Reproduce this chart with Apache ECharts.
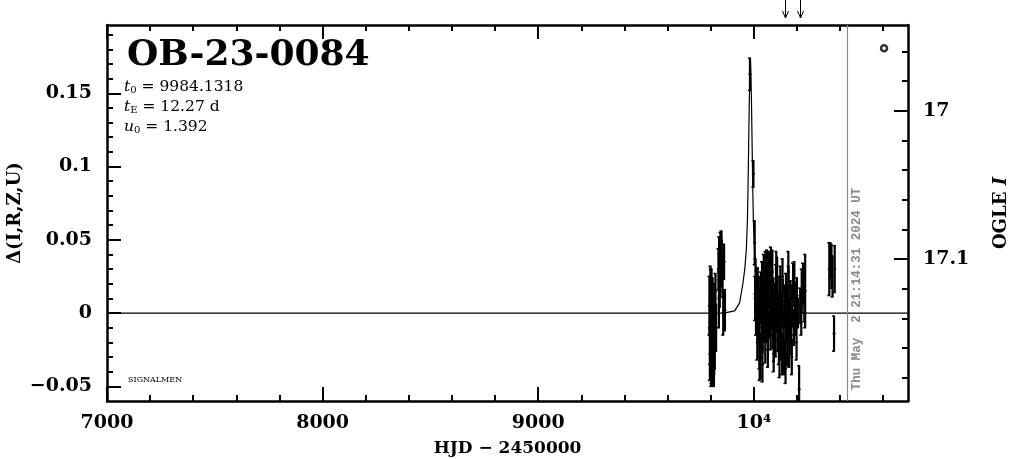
<!DOCTYPE html>
<html><head><meta charset="utf-8">
<script src="https://cdn.jsdelivr.net/npm/echarts@6/dist/echarts.min.js"></script>
<style>html,body{margin:0;padding:0;background:#fff}#c{width:1011px;height:459px}</style>
</head><body><div id="c"></div><script>
// ---- axis ranges & ticks ----
const X_MIN = 7000, X_MAX = 10715;
const Y_MIN = -0.06, Y_MAX = 0.1966;
const MAG_MIN = 16.9422, MAG_MAX = 17.1958;
const xMajorTicks = [7000, 8000, 9000, 10000];
const xMinorTicks = [7200, 7400, 7600, 7800, 8200, 8400, 8600, 8800, 9200, 9400, 9600, 9800, 10200, 10400, 10600];
const yMajorTicks = [-0.05, 0, 0.05, 0.1, 0.15];
const yMinorTicks = [-0.04, -0.03, -0.02, -0.01, 0.01, 0.02, 0.03, 0.04, 0.06, 0.07, 0.08, 0.09, 0.11, 0.12, 0.13, 0.14, 0.16, 0.17, 0.18, 0.19];
const magMajorTicks = [17, 17.1];
const magMinorTicks = [16.96, 16.98, 17.02, 17.04, 17.06, 17.08, 17.12, 17.14, 17.16, 17.18];

// ---- photometry (HJD-2450000, delta mag, error) ----
const hjd = [9794, 9797, 9800, 9803, 9805, 9807, 9809, 9811, 9813, 9815, 9817, 9819, 9822, 9825, 9836, 9839, 9842, 9845, 9848, 9851, 9855, 9858, 9862, 9866,
  9982, 9998, 10004,
  10006, 10008, 10010, 10012, 10015, 10018, 10020, 10023, 10026, 10028, 10031, 10033, 10036, 10038, 10041, 10043, 10046, 10048, 10051, 10053, 10056, 10058,
  10061, 10063, 10066, 10068, 10071, 10073, 10076, 10078, 10081, 10083, 10086, 10088, 10091, 10093, 10096, 10098, 10101, 10103, 10106, 10108, 10111, 10113,
  10116, 10118, 10121, 10123, 10126, 10128, 10131, 10134, 10137, 10140, 10143, 10146, 10149, 10152, 10155, 10158, 10161, 10164, 10167, 10170, 10174, 10178,
  10182, 10186, 10190, 10195, 10200, 10205, 10210, 10215, 10222, 10228, 10234, 10238,
  10350, 10355, 10360, 10365, 10372, 10375,
  9796, 9799, 9802, 9804, 9808, 9812, 9816, 9838, 9844, 9850,
  10016, 10027, 10040, 10054, 10065, 10079, 10092, 10104, 10119, 10133, 10147, 10160, 10176, 10188, 10198, 10220];
const dmag = [0.005, -0.015, 0.012, -0.030, -0.005, -0.025, 0.008, -0.035, -0.012, -0.038, 0.000, -0.020, 0.015, -0.010, 0.030, 0.040, 0.020, 0.045, 0.032, 0.038, 0.025, 0.000, 0.035, 0.002,
  0.163, 0.095, 0.048,
  0.010, 0.025, -0.005, 0.015, 0.000, 0.018, -0.008, 0.010, -0.020, 0.005, -0.030, 0.012, -0.010, 0.020, -0.015, 0.000, 0.028, -0.005, 0.010, -0.018, 0.015, -0.008,
  0.025, 0.003, -0.012, 0.018, 0.030, -0.005, 0.008, -0.015, 0.020, 0.000, 0.028, -0.010, 0.012, -0.020, 0.005, -0.008, -0.018, 0.015, -0.003, 0.022, -0.012, 0.000,
  -0.022, 0.010, -0.005, 0.018, -0.015, 0.002, -0.028, 0.008, -0.010, -0.030, 0.005, -0.018, 0.012, -0.008, -0.022, 0.000, 0.018, -0.025, -0.005, 0.010, -0.015, 0.005,
  0.022, -0.010, 0.008, -0.005, 0.012, 0.000, -0.052, 0.005, 0.015, 0.020, 0.012, 0.015,
  0.030, 0.036, 0.032, 0.025, -0.014, 0.030,
  -0.028, 0.020, -0.040, 0.010, -0.018, -0.030, -0.022, 0.010, 0.030, 0.048,
  -0.020, -0.030, -0.035, 0.030, -0.025, 0.035, -0.028, 0.030, -0.032, 0.025, -0.038, 0.028, -0.030, 0.020, -0.020, 0.000];
const derr = [0.020, 0.020, 0.018, 0.018, 0.022, 0.020, 0.016, 0.014, 0.020, 0.012, 0.020, 0.018, 0.012, 0.016, 0.014, 0.012, 0.016, 0.010, 0.014, 0.012, 0.014, 0.015, 0.012, 0.014,
  0.011, 0.009, 0.015,
  0.015, 0.012, 0.010, 0.014, 0.012, 0.013, 0.010, 0.015, 0.018, 0.012, 0.015, 0.016, 0.014, 0.015, 0.012, 0.018, 0.012, 0.015, 0.013, 0.016, 0.014, 0.012,
  0.018, 0.010, 0.013, 0.014, 0.012, 0.012, 0.015, 0.010, 0.016, 0.012, 0.015, 0.014, 0.012, 0.013, 0.015, 0.012, 0.012, 0.018, 0.010, 0.016, 0.014, 0.012,
  0.013, 0.015, 0.010, 0.014, 0.016, 0.012, 0.014, 0.015, 0.012, 0.012, 0.014, 0.016, 0.015, 0.012, 0.014, 0.016, 0.014, 0.012, 0.015, 0.012, 0.013, 0.014,
  0.012, 0.012, 0.013, 0.010, 0.012, 0.010, 0.016, 0.012, 0.015, 0.014, 0.018, 0.025,
  0.018, 0.012, 0.015, 0.014, 0.012, 0.016,
  0.018, 0.012, 0.010, 0.020, 0.025, 0.020, 0.020, 0.020, 0.018, 0.008,
  0.012, 0.016, 0.012, 0.012, 0.012, 0.010, 0.012, 0.012, 0.012, 0.012, 0.010, 0.014, 0.012, 0.015, 0.012, 0.015];

// ---- model curve ----
const modelT = [7000, 9861, 9911, 9934, 9949, 9958, 9965, 9970, 9973, 9976, 9979, 9982, 9984, 9986, 9989, 9992, 9995, 9998, 10003, 10010, 10019, 10034, 10057, 10107, 10715];
const modelD = [0, 0, 0.0015, 0.007, 0.02, 0.03, 0.043, 0.062, 0.085, 0.115, 0.145, 0.166, 0.174, 0.166, 0.145, 0.115, 0.085, 0.062, 0.043, 0.03, 0.02, 0.007, 0.0015, 0, 0];

const arrowT = [10144, 10213];
const nowHJD = 10433.4;
const markT = [10604], markD = [0.1807];

const fontSerif = '"DejaVu Serif", "Liberation Serif", serif';
const fontMono = '"Liberation Mono", "DejaVu Sans Mono", monospace';
const INK = '#000';
const GRAY = '#8a8a8a';

function fmtMinus(v) { return String(v).replace('-', '\u2212'); }

function xAxisDef(pos, ticks, len, showLine, showLabel, name) {
  return {
    type: 'value', position: pos, min: X_MIN, max: X_MAX, offset: 0,
    name: name || '', nameLocation: 'middle', nameGap: 39,
    nameTextStyle: { fontFamily: fontSerif, fontSize: 17, fontWeight: 'bold', color: INK },
    axisLine: { show: showLine, onZero: false, lineStyle: { color: INK, width: 2.5 } },
    axisTick: { show: true, inside: true, length: len, customValues: ticks, lineStyle: { color: INK, width: 2 } },
    axisLabel: showLabel ? {
      show: true, customValues: ticks, margin: 13, color: INK, fontFamily: fontSerif, fontSize: 19, fontWeight: 'bold',
      formatter: v => (v === 10000 ? '10\u2074' : String(v))
    } : { show: false },
    splitLine: { show: false }
  };
}
function yAxisDef(pos, min, max, inverse, ticks, len, showLine, labelTicks, fmt) {
  return {
    type: 'value', position: pos, min: min, max: max, inverse: inverse, offset: 0,
    axisLine: { show: showLine, onZero: false, lineStyle: { color: INK, width: 2.5 } },
    axisTick: { show: true, inside: true, length: len, customValues: ticks, lineStyle: { color: INK, width: 2 } },
    axisLabel: labelTicks ? {
      show: true, customValues: labelTicks, margin: 15, color: INK, fontFamily: fontSerif, fontSize: 19, fontWeight: 'bold',
      formatter: fmt
    } : { show: false },
    splitLine: { show: false }
  };
}

const errData = hjd.map((t, i) => [t, dmag[i], derr[i]]);
const modelData = modelT.map((t, i) => [t, modelD[i]]);
const arrowData = arrowT.map(t => [t, Y_MAX]);
const markData = markT.map((t, i) => [t, markD[i]]);

const chart = echarts.init(document.getElementById('c'), null, { renderer: 'canvas' });
const yLeft = yAxisDef('left', Y_MIN, Y_MAX, false, yMajorTicks, 14, true, yMajorTicks, v => fmtMinus(v));
yLeft.name = '\u0394(I,R,Z,U)';
yLeft.nameLocation = 'middle';
yLeft.nameRotate = 90;
yLeft.nameGap = 83;
yLeft.nameMoveOverlap = false;
yLeft.nameTextStyle = { fontFamily: fontSerif, fontSize: 18, fontWeight: 'bold', color: INK };
const yRight = yAxisDef('right', MAG_MIN, MAG_MAX, true, magMajorTicks, 14, true, magMajorTicks, v => String(v));
yRight.name = '{n|OGLE }{i|I}';
yRight.nameLocation = 'middle';
yRight.nameRotate = 90;
yRight.nameGap = 84;
yRight.nameMoveOverlap = false;
yRight.nameTextStyle = { fontFamily: fontSerif, fontSize: 18, fontWeight: 'bold', color: INK,
  rich: { n: { fontFamily: fontSerif, fontSize: 18, fontWeight: 'bold', color: INK },
          i: { fontFamily: fontSerif, fontSize: 18, fontWeight: 'bold', fontStyle: 'italic', color: INK } } };

const subRich = { t: { fontFamily: fontSerif, fontSize: 15.5, fontStyle: 'italic' }, s: { fontFamily: fontSerif, fontSize: 10, padding: [7, 0, 0, 0] } };

const option = {
  backgroundColor: '#fff',
  animation: false,
  grid: { left: 107, right: 103, top: 25, bottom: 58, containLabel: false, outerBoundsMode: 'none' },
  xAxis: [
    xAxisDef('bottom', xMajorTicks, 14, true, true, 'HJD \u2212 2450000'),
    xAxisDef('bottom', xMinorTicks, 6, false, false),
    xAxisDef('top', xMajorTicks, 14, true, false),
    xAxisDef('top', xMinorTicks, 6, false, false)
  ],
  yAxis: [
    yLeft,
    yAxisDef('left', Y_MIN, Y_MAX, false, yMinorTicks, 6, false, null),
    yRight,
    yAxisDef('right', MAG_MIN, MAG_MAX, true, magMinorTicks, 6, false, null)
  ],
  graphic: [
    { type: 'text', left: 127, top: 38, style: { text: 'OB-23-0084', fontFamily: fontSerif, fontSize: 36, fontWeight: 'bold', fill: INK } },
    { type: 'text', left: 124, top: 79, style: { text: '{t|t}{s|0} = 9984.1318', fill: INK, rich: subRich, fontFamily: fontSerif, fontSize: 15.5 } },
    { type: 'text', left: 124, top: 99, style: { text: '{t|t}{s|E} = 12.27 d', fill: INK, rich: subRich, fontFamily: fontSerif, fontSize: 15.5 } },
    { type: 'text', left: 124, top: 119, style: { text: '{t|u}{s|0} = 1.392', fill: INK, rich: subRich, fontFamily: fontSerif, fontSize: 15.5 } },
    { type: 'text', left: 128, top: 376, style: { text: 'SIGNALMEN', fontFamily: fontSerif, fontSize: 8, fill: INK } },
    { type: 'text', x: 857, y: 289, rotation: Math.PI / 2,
      style: { text: 'Thu May  2 21:14:31 2024 UT', fontFamily: fontMono, fontSize: 12.5, fontWeight: 'bold', fill: GRAY, align: 'center', verticalAlign: 'middle' } }
  ],
  series: [
    {
      type: 'line', name: 'model', xAxisIndex: 0, yAxisIndex: 0, data: modelData,
      showSymbol: false, symbol: 'none', lineStyle: { color: INK, width: 1.2 }, z: 3, clip: true,
      markLine: {
        silent: true, symbol: ['none', 'none'], label: { show: false },
        lineStyle: { color: GRAY, width: 1.2, type: 'solid' },
        data: [{ xAxis: nowHJD }]
      }
    },
    {
      type: 'custom', name: 'phot', xAxisIndex: 0, yAxisIndex: 0, data: errData, clip: true, z: 4,
      renderItem: function (params, api) {
        const t = api.value(0), d = api.value(1), e = api.value(2);
        const top = api.coord([t, d + e]), bot = api.coord([t, d - e]), mid = api.coord([t, d]);
        const st = { stroke: INK, lineWidth: 2.2 };
        return { type: 'group', children: [
          { type: 'line', shape: { x1: top[0], y1: top[1], x2: bot[0], y2: bot[1] }, style: st },
          { type: 'line', shape: { x1: top[0] - 2, y1: top[1], x2: top[0] + 1, y2: top[1] }, style: { stroke: INK, lineWidth: 1.5 } },
          { type: 'line', shape: { x1: bot[0] - 2, y1: bot[1], x2: bot[0] + 1, y2: bot[1] }, style: { stroke: INK, lineWidth: 1.5 } },
          { type: 'line', shape: { x1: mid[0] - 1.5, y1: mid[1], x2: mid[0] + 1.5, y2: mid[1] }, style: { stroke: INK, lineWidth: 1.5 } }
        ] };
      }
    },
    {
      type: 'custom', name: 'arrows', xAxisIndex: 0, yAxisIndex: 0, data: arrowData, clip: false, z: 5,
      renderItem: function (params, api) {
        const p = api.coord([api.value(0), api.value(1)]);
        const x = Math.round(p[0]) + 0.5, yTip = p[1] - 7, yTop = p[1] - 25;
        return { type: 'group', children: [
          { type: 'line', shape: { x1: x, y1: yTop, x2: x, y2: yTip }, style: { stroke: INK, lineWidth: 1 } },
          { type: 'polyline', shape: { points: [[x - 3, yTip - 7], [x, yTip], [x + 3, yTip - 7]] }, style: { stroke: INK, lineWidth: 1, fill: null } }
        ] };
      }
    },
    {
      type: 'scatter', name: 'mark', xAxisIndex: 0, yAxisIndex: 0, data: markData, symbol: 'circle', symbolSize: 6,
      itemStyle: { color: '#fff', borderColor: INK, borderWidth: 2.5 }, z: 6
    }
  ]
};
chart.setOption(option);
</script></body></html>
